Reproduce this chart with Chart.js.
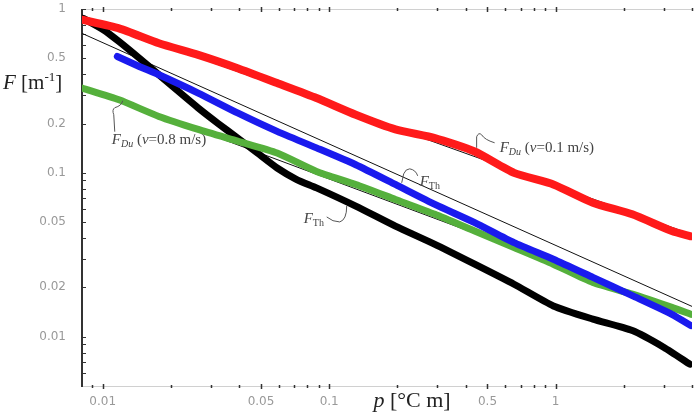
<!DOCTYPE html>
<html>
<head>
<meta charset="utf-8">
<script src="https://cdn.jsdelivr.net/npm/chart.js@4.4.1/dist/chart.umd.min.js"></script>
<style>
    html, body { margin: 0; padding: 0; background: #fff; }
</style>
</head>
<body>
<canvas id="fChart" width="698" height="418"></canvas>
<script>
// p [°C m] and F [1/m]
const pDu01 = [0.0081, 0.0118, 0.0177, 0.0264, 0.0394, 0.0589, 0.0879, 0.131, 0.196, 0.293, 0.439, 0.655, 0.977, 1.46, 2.18, 3.26, 3.95];
const fDu01 = [0.86, 0.762, 0.618, 0.525, 0.435, 0.353, 0.286, 0.226, 0.184, 0.163, 0.135, 0.100, 0.085, 0.0657, 0.0558, 0.0441, 0.0410];

const pTh = [0.0116, 0.0145, 0.0177, 0.0264, 0.0394, 0.0589, 0.0879, 0.131, 0.196, 0.293, 0.439, 0.655, 0.977, 1.46, 2.18, 3.26, 3.95];
const fTh = [0.513, 0.446, 0.397, 0.307, 0.232, 0.179, 0.142, 0.112, 0.0849, 0.0642, 0.0497, 0.0375, 0.0297, 0.0230, 0.0178, 0.0137, 0.0117];

const pDu08 = [0.0081, 0.0118, 0.0177, 0.0264, 0.0394, 0.0589, 0.0879, 0.131, 0.196, 0.293, 0.439, 0.655, 0.977, 1.46, 2.18, 3.26, 3.95];
const fDu08 = [0.329, 0.279, 0.221, 0.184, 0.156, 0.132, 0.102, 0.0849, 0.0688, 0.0558, 0.0441, 0.0350, 0.0277, 0.0214, 0.0182, 0.0151, 0.0137];

const pThB = [0.0082, 0.0101, 0.0118, 0.0145, 0.0177, 0.0216, 0.0264, 0.0322, 0.0394, 0.0482, 0.0589, 0.0719, 0.0879, 0.131, 0.196, 0.293, 0.439, 0.655, 0.977, 1.46, 2.18, 3.01, 3.91];
const fThB = [0.877, 0.745, 0.633, 0.501, 0.397, 0.314, 0.249, 0.201, 0.163, 0.132, 0.107, 0.0910, 0.0810, 0.0627, 0.0473, 0.0366, 0.0277, 0.0209, 0.0154, 0.0128, 0.0109, 0.0086, 0.0068];

// power-law fit lines (end points)
const pFit = [0.0081, 4];
const fFitDu01 = [0.91, 0.042];
const fFitTh = [0.71, 0.0153];
const fFitDu08 = [0.335, 0.0137];

// axis range and tick labels
const pRange = [0.0081, 4];
const fRange = [0.005, 1];
const pTickLabels = [0.01, 0.05, 0.1, 0.5, 1];
const fTickLabels = [1, 0.5, 0.2, 0.1, 0.05, 0.02, 0.01];

const pts = (xs, ys) => xs.map((x, i) => ({ x: x, y: ys[i] }));
const near = (v, list) => list.find(t => Math.abs(v - t) / t < 1e-6);
const isWhole = v => {
    const s = v / Math.pow(10, Math.floor(Math.log10(v) + 1e-9));
    return Math.abs(s - Math.round(s)) < 1e-6;
};

// thick band of measured points
function band(data, color, width) {
    return {
        data: data, borderColor: color, backgroundColor: color,
        borderWidth: width, pointRadius: 0, tension: 0.2, clip: 0,
        borderCapStyle: 'round', borderJoinStyle: 'round'
    };
}
// thin fit line
function fit(data) {
    return { data: data, borderColor: '#111', borderWidth: 1, pointRadius: 0, clip: 0 };
}

const SERIF = '"Liberation Serif", "Times New Roman", serif';

// draw text pieces one after another
function rich(ctx, x, y, parts) {
    parts.forEach(p => {
        ctx.font = p.f;
        ctx.fillText(p.t, x, y + (p.dy || 0));
        x += ctx.measureText(p.t).width;
    });
}
function richWidth(ctx, parts) {
    return parts.reduce((w, p) => { ctx.font = p.f; return w + ctx.measureText(p.t).width; }, 0);
}

const labelDu = v => [
    { t: 'F', f: 'italic 15px ' + SERIF },
    { t: 'Du', f: 'italic 10px ' + SERIF, dy: 3 },
    { t: ' (', f: '15px ' + SERIF },
    { t: 'v', f: 'italic 15px ' + SERIF },
    { t: '=' + v + ' m/s)', f: '15px ' + SERIF }
];
const labelTh = [
    { t: 'F', f: 'italic 15px ' + SERIF },
    { t: 'Th', f: '10px ' + SERIF, dy: 3 }
];

// curve labels: anchor on the curve, leader path (px), text offset (px)
const notes = [
    { at: [0.01226, 0.2756], text: labelDu('0.8'), tx: -11, ty: 43,
      path: c => { c.moveTo(0, 0); c.quadraticCurveTo(-1, 5, -8, 7); c.quadraticCurveTo(-11, 9, -9, 14); c.lineTo(-8, 31); } },
    { at: [0.2090, 0.0869], text: labelTh, tx: 18, ty: 3,
      path: c => { c.moveTo(0, 0); c.lineTo(2, -9); c.quadraticCurveTo(4, -14, 8, -14); c.quadraticCurveTo(14, -13, 16, -7); } },
    { at: [0.1195, 0.0628], text: labelTh, tx: -43, ty: 17,
      path: c => { c.moveTo(0, 0); c.quadraticCurveTo(0, 14, -7, 16); c.quadraticCurveTo(-14, 16, -20, 11); } },
    { at: [0.4478, 0.1422], text: labelDu('0.1'), tx: 23, ty: 4,
      path: c => { c.moveTo(0, 0); c.lineTo(0, -11); c.quadraticCurveTo(2, -16, 5, -13); c.quadraticCurveTo(8, -8, 18, -5); } }
];

// frame, tick marks and axis titles
const framePlugin = {
    id: 'frame',
    beforeDatasetsDraw(chart) {
        const { ctx, chartArea: a, scales: { x, y } } = chart;
        ctx.save();
        ctx.strokeStyle = '#d0d0d0';
        ctx.lineWidth = 1;
        ctx.beginPath();
        ctx.moveTo(a.left, a.top + 0.5); ctx.lineTo(a.right, a.top + 0.5);
        ctx.moveTo(a.left, a.bottom + 0.5); ctx.lineTo(a.right, a.bottom + 0.5);
        ctx.stroke();

        ctx.strokeStyle = '#333';
        ctx.lineWidth = 1.5;
        ctx.beginPath();
        x.ticks.forEach(t => {
            if (!isWhole(t.value)) return;
            const px = Math.round(x.getPixelForValue(t.value)) + 0.5;
            const h = near(t.value, pTickLabels) ? 2.5 : 1.5;
            ctx.moveTo(px, a.top - h + 0.5); ctx.lineTo(px, a.top + h + 0.5);
            ctx.moveTo(px, a.bottom - h + 0.5); ctx.lineTo(px, a.bottom + h + 0.5);
        });
        ctx.stroke();

        ctx.lineWidth = 1;
        ctx.beginPath();
        y.ticks.forEach(t => {
            if (!isWhole(t.value) || t.value < 0.0055) return;
            const py = Math.round(y.getPixelForValue(t.value)) + 0.5;
            ctx.moveTo(a.left, py); ctx.lineTo(a.left + 4, py);
        });
        ctx.stroke();

        ctx.strokeStyle = '#333';
        ctx.lineWidth = 2;
        ctx.beginPath();
        ctx.moveTo(a.left, a.top); ctx.lineTo(a.left, a.bottom + 1);
        ctx.stroke();

        ctx.fillStyle = '#222';
        ctx.textBaseline = 'alphabetic';
        rich(ctx, 3, 89, [
            { t: 'F', f: 'italic 21px ' + SERIF },
            { t: ' [m', f: '21px ' + SERIF },
            { t: '-1', f: '13px ' + SERIF, dy: -8 },
            { t: ']', f: '21px ' + SERIF }
        ]);
        const xt = [
            { t: 'p', f: 'italic 22px ' + SERIF },
            { t: ' [°C m]', f: '22px ' + SERIF }
        ];
        rich(ctx, 412 - richWidth(ctx, xt) / 2, 407, xt);
        ctx.restore();
    },
    afterDatasetsDraw(chart) {
        const { ctx, scales: { x, y } } = chart;
        ctx.save();
        ctx.strokeStyle = '#555';
        ctx.fillStyle = '#444';
        ctx.lineWidth = 1;
        ctx.textBaseline = 'alphabetic';
        notes.forEach(n => {
            const ax = x.getPixelForValue(n.at[0]);
            const ay = y.getPixelForValue(n.at[1]);
            ctx.save();
            ctx.translate(ax, ay);
            ctx.beginPath();
            n.path(ctx);
            ctx.stroke();
            ctx.restore();
            rich(ctx, ax + n.tx, ay + n.ty, n.text);
        });
        ctx.restore();
    }
};

const tickFont = { family: '"DejaVu Sans", sans-serif', size: 12 };

new Chart(document.getElementById('fChart'), {
    type: 'line',
    data: {
        datasets: [
            band(pts(pDu01, fDu01), '#ff1a1a', 8),
            band(pts(pTh, fTh), '#1a1aee', 7),
            band(pts(pDu08, fDu08), '#55b03c', 7),
            band(pts(pThB, fThB), '#000000', 7),
            fit(pts(pFit, fFitDu01)),
            fit(pts(pFit, fFitTh)),
            fit(pts(pFit, fFitDu08))
        ]
    },
    options: {
        responsive: false,
        animation: false,
        devicePixelRatio: 1,
        layout: { padding: { top: 9, right: 6, left: 0, bottom: 0 } },
        plugins: { legend: { display: false }, tooltip: { enabled: false } },
        scales: {
            x: {
                type: 'logarithmic',
                min: pRange[0], max: pRange[1],
                grid: { display: false, drawTicks: false },
                border: { display: false },
                afterFit: s => { s.height = 32; s.paddingLeft = 0; s.paddingRight = 0; },
                ticks: {
                    autoSkip: false, maxRotation: 0, padding: 9,
                    color: '#999', font: tickFont,
                    callback: v => { const t = near(v, pTickLabels); return t ? String(t) : ''; }
                }
            },
            y: {
                type: 'logarithmic',
                min: fRange[0], max: fRange[1],
                grid: { display: false, drawTicks: false },
                border: { display: false },
                afterFit: s => { s.width = 82; s.paddingTop = 0; s.paddingBottom = 0; },
                ticks: {
                    autoSkip: false, padding: 16,
                    color: '#999', font: tickFont,
                    callback: v => { const t = near(v, fTickLabels); return t ? String(t) : ''; }
                }
            }
        }
    },
    plugins: [framePlugin]
});
</script>
</body>
</html>
